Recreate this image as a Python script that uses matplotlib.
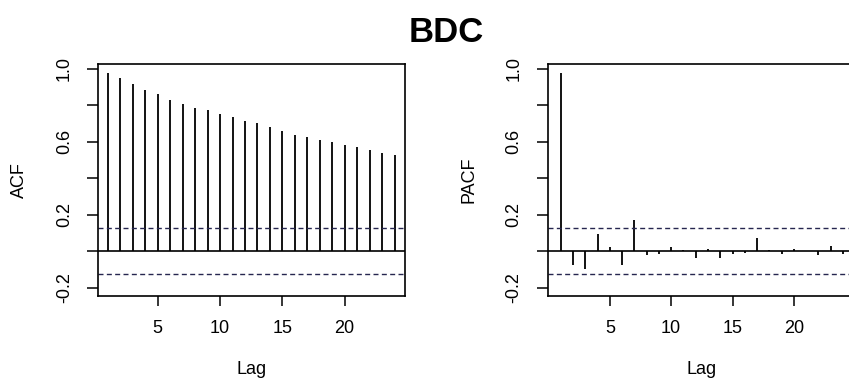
import matplotlib
matplotlib.use("Agg")
import matplotlib.pyplot as plt
import numpy as np

# correlogram values
lags = np.arange(1, 25)
acf_vals = [0.978, 0.949, 0.914, 0.885, 0.858, 0.828, 0.808, 0.786,
            0.772, 0.750, 0.735, 0.715, 0.701, 0.681, 0.659, 0.637,
            0.624, 0.609, 0.595, 0.580, 0.568, 0.553, 0.538, 0.524]
pacf_vals = [0.978, -0.075, -0.097, 0.093, 0.022, -0.075, 0.172, -0.024,
             -0.016, 0.022, 0.004, -0.040, 0.013, -0.038, -0.018, -0.013,
             0.069, 0.003, -0.016, 0.013, 0.002, -0.024, 0.029, -0.018]
conf = 0.126
title = "BDC"
ytick_vals = [-0.2, 0.0, 0.2, 0.4, 0.6, 0.8, 1.0]
ytick_labels = ["-0.2", "", "0.2", "", "0.6", "", "1.0"]
xtick_vals = [5, 10, 15, 20]

font = ["Liberation Sans", "DejaVu Sans"]
dash_col = "#26264f"

fig = plt.figure(figsize=(8.49, 3.82), dpi=100)

def corr_panel(rect, vals, ylab, xlim):
    ax = fig.add_axes(rect)
    ax.vlines(lags, 0, vals, color="black", lw=1.3)
    ax.axhline(0, color="black", lw=1.2)
    for c in (conf, -conf):
        ax.axhline(c, color=dash_col, lw=1.0, linestyle=(0, (3.6, 2.4)))
    ax.set_xlim(*xlim)
    ax.set_ylim(-0.2466, 1.0247)
    ax.set_yticks(ytick_vals)
    ax.set_yticklabels(ytick_labels, rotation=90, va="center",
                       family=font, fontsize=13)
    ax.set_xticks(xtick_vals)
    ax.set_xticklabels([str(v) for v in xtick_vals], family=font, fontsize=13)
    ax.tick_params(axis="x", length=7.5, width=1.1, pad=10)
    ax.tick_params(axis="y", length=8, width=1.1, pad=10)
    ax.set_xlabel("Lag", family=font, fontsize=13, labelpad=17)
    ax.set_ylabel(ylab, family=font, fontsize=13, labelpad=20)
    for s in ax.spines.values():
        s.set_linewidth(1.2)
    return ax

corr_panel([0.1153, 0.2251, 0.3616, 0.6073], acf_vals, "ACF", (0.2, 24.83))
corr_panel([0.645, 0.2251, 0.3616, 0.6073], pacf_vals, "PACF", (-0.07, 24.95))

fig.text(0.526, 0.890, title, ha="center", va="baseline",
         family=font, fontweight="heavy", fontsize=25)

fig.savefig("out.png", dpi=100)
